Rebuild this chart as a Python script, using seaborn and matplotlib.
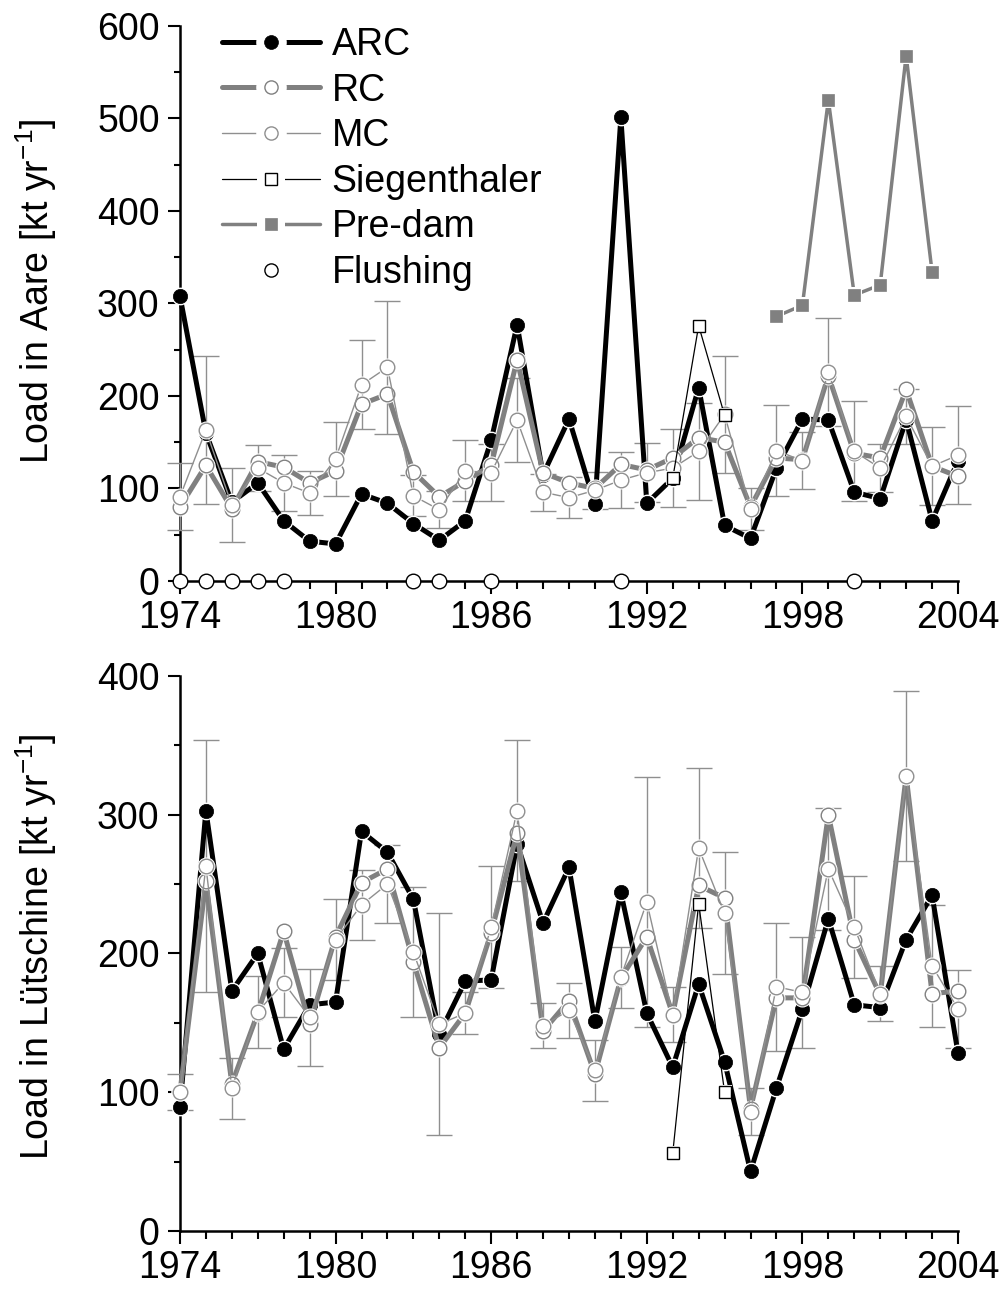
import matplotlib
matplotlib.use("Agg")
import matplotlib.pyplot as plt
import seaborn as sns
from matplotlib.lines import Line2D
from matplotlib.legend_handler import HandlerTuple
from matplotlib.ticker import MultipleLocator

# ---------------- data ----------------
years = list(range(1974, 2005))

aare_arc = [308, 160, 85, 106, 65, 43, 40, 94, 84, 62, 44, 65, 152, 277, 115, 175,
            83, 501, 84, 111, 209, 60, 46, 122, 175, 174, 96, 89, 174, 65, 130]
aare_rc = [80, 125, 78, 129, 123, 106, 119, 191, 202, 118, 91, 108, 125, 239, 117, 106,
           100, 126, 120, 133, 155, 150, 80, 133, 131, 222, 138, 133, 207, 124, 113]
aare_mc = [91, 163, 82, 122, 106, 95, 132, 212, 231, 92, 77, 119, 117, 174, 96, 90,
           98, 109, 117, 122, 140, 180, 78, 141, 130, 226, 140, 122, 178, 124, 136]
aare_mc_err = [36, 80, 40, 25, 30, 24, 40, 48, 72, 22, 20, 33, 31, 45, 20, 22,
               20, 30, 32, 42, 52, 63, 23, 49, 31, 58, 54, 26, 30, 42, 53]
sieg_years = [1993, 1994, 1995]
aare_sieg = [111, 276, 179]
predam_years = [1997, 1998, 1999, 2000, 2001, 2002, 2003]
aare_predam = [286, 298, 520, 309, 320, 568, 334]
flush_years = [1974, 1975, 1976, 1977, 1978, 1983, 1984, 1986, 1991, 2000]
flush_vals = [0, 0, 0, 0, 0, 0, 0, 0, 0, 0]

lut_arc = [89, 303, 173, 200, 131, 163, 165, 288, 273, 239, 142, 180, 181, 279, 222, 262,
           151, 244, 157, 118, 178, 122, 43, 103, 160, 225, 163, 161, 210, 242, 128]
lut_rc = [100, 252, 106, 157, 216, 149, 212, 251, 261, 194, 132, 157, 215, 287, 144, 166,
          113, 182, 212, 156, 249, 240, 88, 168, 168, 300, 210, 170, 328, 171, 173]
lut_mc = [100, 263, 103, 158, 179, 154, 210, 235, 250, 201, 149, 157, 219, 303, 148, 159,
          116, 183, 237, 156, 276, 229, 86, 176, 172, 261, 219, 171, 328, 191, 160]
lut_mc_err = [13, 91, 22, 26, 25, 35, 29, 25, 28, 47, 80, 15, 44, 51, 16, 20,
              22, 22, 90, 20, 58, 44, 17, 46, 40, 44, 37, 20, 61, 44, 28]
lut_sieg = [56, 236, 100]

# ---------------- style ----------------
sns.set_style("ticks")
plt.rcParams["font.family"] = ["Liberation Sans", "DejaVu Sans"]
plt.rcParams["mathtext.default"] = "regular"
for k in ["text.color", "axes.labelcolor", "xtick.color", "ytick.color",
          "xtick.labelcolor", "ytick.labelcolor"]:
    plt.rcParams[k] = "black"
FS = 27
GRAY = "#808080"
LGRAY = "#8f8f8f"

fig = plt.figure(figsize=(10.02, 12.89), dpi=100)
ax1 = fig.add_axes([0.1796, 0.5493, 0.7765, 0.4306])
ax2 = fig.add_axes([0.1796, 0.0450, 0.7765, 0.4306])


def series(ax, x, y, color, lw, marker, ms, mfc, mec, mew, z, halo=2.5, line=True):
    if line:
        sns.lineplot(x=x, y=y, ax=ax, color=color, lw=lw, zorder=z,
                     estimator=None, sort=False, clip_on=False, legend=False)
    if halo:
        sns.lineplot(x=x, y=y, ax=ax, color="white", linestyle="", marker=marker,
                     markersize=ms + halo, markerfacecolor="white",
                     markeredgecolor="white", markeredgewidth=0, zorder=z + 0.1,
                     estimator=None, sort=False, clip_on=False, legend=False)
    sns.lineplot(x=x, y=y, ax=ax, color=mec, linestyle="", marker=marker,
                 markersize=ms, markerfacecolor=mfc, markeredgecolor=mec,
                 markeredgewidth=mew, zorder=z + 0.2, estimator=None, sort=False,
                 clip_on=False, legend=False)


def errbars(ax, x, y, e):
    cont = ax.errorbar(x, y, yerr=e, fmt="none", ecolor=LGRAY, elinewidth=1.0,
                       capsize=9.5, capthick=1.0, zorder=2.6)
    for art in cont.get_children():
        art.set_clip_on(False)


# ---------------- top panel ----------------
errbars(ax1, years, aare_mc, aare_mc_err)
series(ax1, years, aare_arc, "black", 3.6, "o", 10.3, "black", "black", 0.5, 3)
series(ax1, years, aare_rc, GRAY, 3.6, "o", 10.5, "white", GRAY, 1.0, 4)
series(ax1, years, aare_mc, LGRAY, 1.0, "o", 10.5, "white", LGRAY, 1.0, 5)
series(ax1, sieg_years, aare_sieg, "black", 0.9, "s", 8, "white", "black", 1.0, 6)
series(ax1, predam_years, aare_predam, GRAY, 2.5, "s", 9, GRAY, GRAY, 0.5, 7)
series(ax1, flush_years, flush_vals, "black", 0, "o", 10.5, "white", "black", 1.0, 8,
       halo=0, line=False)

# ---------------- bottom panel ----------------
errbars(ax2, years, lut_mc, lut_mc_err)
series(ax2, years, lut_arc, "black", 3.6, "o", 10.3, "black", "black", 0.5, 3)
series(ax2, years, lut_rc, GRAY, 3.6, "o", 10.5, "white", GRAY, 1.0, 4)
series(ax2, years, lut_mc, LGRAY, 1.0, "o", 10.5, "white", LGRAY, 1.0, 5)
series(ax2, sieg_years, lut_sieg, "black", 0.9, "s", 8, "white", "black", 1.0, 6)

# ---------------- axes formatting ----------------
for ax, top, label, ly in [(ax1, 600, "Load in Aare [kt yr$^{-1}$]", 0.522),
                           (ax2, 400, "Load in L\u00fctschine [kt yr$^{-1}$]", 0.513)]:
    ax.set_xlim(1974, 2004)
    ax.set_ylim(0, top)
    ax.xaxis.set_major_locator(MultipleLocator(6))
    ax.xaxis.set_minor_locator(MultipleLocator(1))
    ax.yaxis.set_major_locator(MultipleLocator(100))
    ax.yaxis.set_minor_locator(MultipleLocator(50))
    for s in ["top", "right"]:
        ax.spines[s].set_visible(False)
    for s in ["left", "bottom"]:
        ax.spines[s].set_linewidth(1.8)
        ax.spines[s].set_color("black")
    ax.tick_params(axis="both", which="major", direction="out", width=1.5,
                   labelsize=FS, colors="black", labelcolor="black")
    ax.tick_params(axis="x", which="major", length=9.4, pad=4.5)
    ax.tick_params(axis="x", which="minor", length=5.5, width=1.5, direction="out",
                   colors="black")
    ax.tick_params(axis="y", which="major", length=8.6, pad=6.0)
    ax.tick_params(axis="y", which="minor", length=4.0, width=1.5, direction="out",
                   colors="black")
    ax.set_xlabel("")
    ax.set_ylabel(label, fontsize=FS, color="black")
    ax.yaxis.set_label_coords(-0.156, ly)
    ax.set_facecolor("white")

# ---------------- legend ----------------
def handle(color, lw, marker, ms, mfc, mec, mew, halo=22):
    parts = []
    if lw > 0:
        parts.append(Line2D([], [], color=color, lw=lw))
        parts.append(Line2D([], [], ls="", marker=marker, markersize=halo,
                            markerfacecolor="white", markeredgecolor="white",
                            markeredgewidth=0))
    parts.append(Line2D([], [], ls="", marker=marker, markersize=ms,
                        markerfacecolor=mfc, markeredgecolor=mec,
                        markeredgewidth=mew))
    return tuple(parts)


handles = [
    handle("black", 3.6, "o", 10, "black", "black", 0.5),
    handle(GRAY, 3.6, "o", 9.5, "white", GRAY, 1.0),
    handle(LGRAY, 1.0, "o", 9.5, "white", LGRAY, 1.0),
    handle("black", 0.9, "s", 8, "white", "black", 1.0, halo=20),
    handle(GRAY, 2.5, "s", 9, GRAY, GRAY, 0.5, halo=20),
    handle("black", 0, "o", 9.5, "white", "black", 1.0),
]
labels = ["ARC", "RC", "MC", "Siegenthaler", "Pre-dam", "Flushing"]
leg = ax1.legend(handles, labels, loc="upper left", bbox_to_anchor=(0.054, 0.998),
                 frameon=False, fontsize=FS, borderpad=0, borderaxespad=0,
                 handlelength=2.62, handletextpad=0.3, labelspacing=0.255,
                 numpoints=1, handler_map={tuple: HandlerTuple(ndivide=1, pad=0)})
for t in leg.get_texts():
    t.set_color("black")
leg.set_zorder(10)

fig.savefig("out.png", dpi=100, facecolor="white")
